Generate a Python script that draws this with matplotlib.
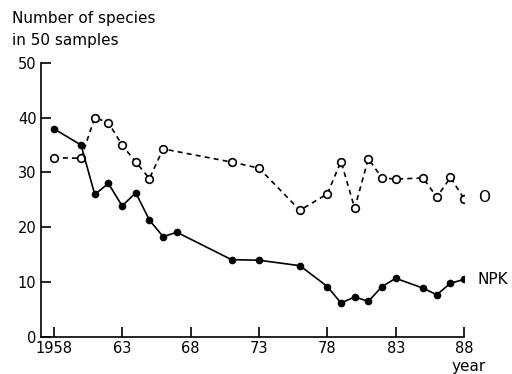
import matplotlib
matplotlib.use("Agg")
from matplotlib import pyplot as plt

# 未施肥小区 (O) 物种数
years_o = [1958, 1960, 1961, 1962, 1963, 1964, 1965, 1966, 1971, 1973,
           1976, 1978, 1979, 1980, 1981, 1982, 1983, 1985, 1986, 1987, 1988]
species_o = [32.7, 32.6, 40.0, 39.1, 35.0, 31.9, 28.9, 34.3, 31.9, 30.8,
             23.1, 26.1, 32.0, 23.5, 32.5, 29.0, 28.8, 29.0, 25.5, 29.1, 25.2]

# NPK 施肥小区物种数
years_npk = [1958, 1960, 1961, 1962, 1963, 1964, 1965, 1966, 1967, 1971, 1973,
             1976, 1978, 1979, 1980, 1981, 1982, 1983, 1985, 1986, 1987, 1988]
species_npk = [38.0, 35.0, 26.0, 28.0, 23.9, 26.3, 21.3, 18.3, 19.1, 14.1, 14.0,
               13.0, 9.2, 6.2, 7.3, 6.5, 9.2, 10.7, 8.9, 7.7, 9.8, 10.5]

xticks = [1958, 1963, 1968, 1973, 1978, 1983, 1988]
xtick_labels = ['1958', '63', '68', '73', '78', '83', '88']
yticks = [0, 10, 20, 30, 40, 50]

plt.rcParams["font.family"] = ["DejaVu Sans"]
plt.rcParams["font.size"] = 10

fig = plt.figure(figsize=(5.12, 3.74), dpi=100)
ax = fig.add_axes([0.0795, 0.099, 0.827, 0.733])

ax.plot(years_o, species_o, linestyle=(0, (3, 2.5)), color='black', linewidth=1.2,
        marker='o', markersize=5.5, markerfacecolor='white',
        markeredgecolor='black', markeredgewidth=1.2)
ax.plot(years_npk, species_npk, linestyle='-', color='black', linewidth=1.2,
        marker='o', markersize=4.5, markerfacecolor='black',
        markeredgecolor='black')

ax.set_xlim(1957.05, 1988)
ax.set_ylim(0, 50)
ax.set_xticks(xticks)
ax.set_xticklabels(xtick_labels)
ax.set_yticks(yticks)

ax.spines['top'].set_visible(False)
ax.spines['right'].set_visible(False)
for s in ['left', 'bottom']:
    ax.spines[s].set_linewidth(1.2)
ax.tick_params(direction='in', length=7, width=1.2, pad=3, labelsize=10.5)

# 曲线标注
ax.text(1989.0, 25.4, 'O', fontsize=11, va='center', ha='left')
ax.text(1989.0, 10.4, 'NPK', fontsize=11, va='center', ha='left')

fig.text(12 / 512, 1 - 18 / 374, 'Number of species', fontsize=11, va='center', ha='left')
fig.text(12 / 512, 1 - 41 / 374, 'in 50 samples', fontsize=11, va='center', ha='left')
fig.text(452 / 512, 1 - 367 / 374, 'year', fontsize=11, va='center', ha='left')

fig.savefig('out.png', dpi=100)
